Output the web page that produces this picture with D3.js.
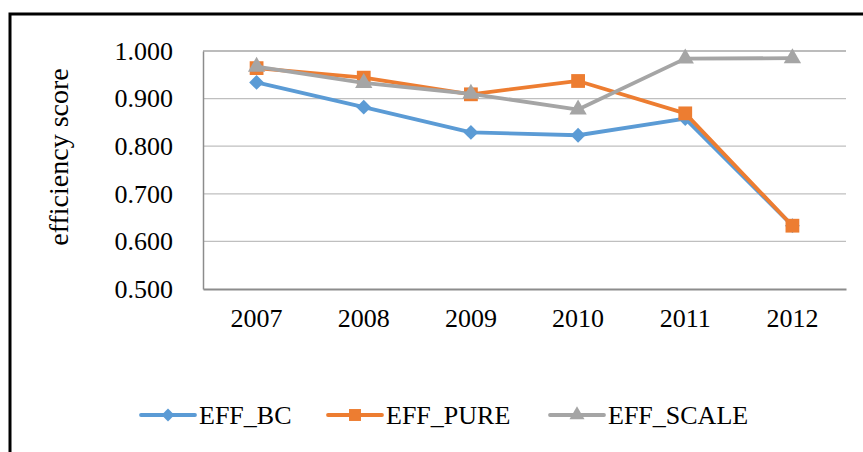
<!DOCTYPE html>
<html>
<head>
<meta charset="utf-8">
<script src="https://cdn.jsdelivr.net/npm/d3@7"></script>
<style>
  body { margin: 0; background: #fff; }
</style>
</head>
<body>
<div id="chart"></div>
<script>
// data
let years = ["2007", "2008", "2009", "2010", "2011", "2012"];
let effBC = [0.934, 0.882, 0.829, 0.823, 0.858, 0.633];
let effPure = [0.964, 0.944, 0.909, 0.937, 0.869, 0.633];
let effScale = [0.967, 0.933, 0.910, 0.877, 0.984, 0.985];
let yTicks = [0.5, 0.6, 0.7, 0.8, 0.9, 1.0];
let seriesNames = ["EFF_BC", "EFF_PURE", "EFF_SCALE"];
let seriesColors = ["#5B9BD5", "#ED7D31", "#A5A5A5"];
// diamond = square turned 45deg
let seriesShapes = [d3.symbolSquare, d3.symbolSquare, d3.symbolTriangle];
let shapeRotate = [45, 0, 0];
let markerSize = [110, 190, 130];

let FONT = "'Liberation Serif', 'Times New Roman', serif";
let width = 863, height = 452;
let plot = { left: 203, right: 846, top: 51, bottom: 289 };

let svg = d3.select("#chart").append("svg")
  .attr("width", width)
  .attr("height", height);

// outer frame (runs off the right / bottom of the picture)
svg.append("rect")
  .attr("x", 10).attr("y", 14)
  .attr("width", 900).attr("height", 500)
  .attr("fill", "none")
  .attr("stroke", "#000")
  .attr("stroke-width", 3);

let x = d3.scaleBand()
  .domain(years)
  .range([plot.left, plot.right]);

let y = d3.scaleLinear()
  .domain([0.5, 1.0])
  .range([plot.bottom, plot.top]);

// grid lines
svg.append("g")
  .selectAll("line")
  .data(yTicks.filter(d => d > 0.5))
  .enter().append("line")
  .attr("x1", plot.left).attr("x2", plot.right)
  .attr("y1", d => y(d)).attr("y2", d => y(d))
  .attr("stroke", d => d == 1.0 ? "#a6a6a6" : "#bfbfbf")
  .attr("stroke-width", 1.3);

// y axis
let yAxis = svg.append("g")
  .attr("transform", "translate(" + plot.left + ",0)")
  .call(d3.axisLeft(y).tickValues(yTicks).tickFormat(d3.format(".3f")).tickSize(0).tickPadding(30));
yAxis.attr("font-family", FONT).attr("font-size", 26);
yAxis.select(".domain").attr("stroke", "#8c8c8c").attr("stroke-width", 1.5);
yAxis.selectAll("text").attr("fill", "#000");

// x axis
let xAxis = svg.append("g")
  .attr("transform", "translate(0," + plot.bottom + ")")
  .call(d3.axisBottom(x).tickSize(0).tickPadding(20));
xAxis.attr("font-family", FONT).attr("font-size", 26);
xAxis.select(".domain").attr("stroke", "#8c8c8c").attr("stroke-width", 2);
xAxis.selectAll("text").attr("fill", "#000");

// y label
svg.append("text")
  .attr("transform", "translate(58,157) rotate(-90)")
  .attr("text-anchor", "middle")
  .attr("dy", "0.35em")
  .attr("font-family", FONT)
  .attr("font-size", 28)
  .text("efficiency score");

let allSeries = [effBC, effPure, effScale];
let line = d3.line()
  .x((d, i) => x(years[i]) + x.bandwidth() / 2)
  .y(d => y(d));

allSeries.forEach(function (vals, s) {
  let g = svg.append("g");
  g.append("path")
    .datum(vals)
    .attr("d", line)
    .attr("fill", "none")
    .attr("stroke", seriesColors[s])
    .attr("stroke-width", 3.8)
    .attr("stroke-linejoin", "round");
  g.selectAll("path.pt")
    .data(vals)
    .enter().append("path")
    .attr("class", "pt")
    .attr("d", d3.symbol().type(seriesShapes[s]).size(markerSize[s]))
    .attr("transform", (d, i) => "translate(" + (x(years[i]) + x.bandwidth() / 2) + "," + y(d) + ") rotate(" + shapeRotate[s] + ")")
    .attr("fill", seriesColors[s]);
});

// legend
let legendX = [141, 328, 550];
let legY = 415;
let legend = svg.append("g");
seriesNames.forEach(function (name, s) {
  let lx = legendX[s];
  legend.append("line")
    .attr("x1", lx).attr("x2", lx + 54)
    .attr("y1", legY).attr("y2", legY)
    .attr("stroke", seriesColors[s])
    .attr("stroke-width", 3.8)
    .attr("stroke-linecap", "round");
  legend.append("path")
    .attr("d", d3.symbol().type(seriesShapes[s]).size(markerSize[s] * 0.75))
    .attr("transform", "translate(" + (lx + 27) + "," + legY + ") rotate(" + shapeRotate[s] + ")")
    .attr("fill", seriesColors[s]);
  legend.append("text")
    .attr("x", lx + 58)
    .attr("y", legY)
    .attr("dy", "0.35em")
    .attr("font-family", FONT)
    .attr("font-size", 26)
    .text(name);
});
</script>
</body>
</html>
